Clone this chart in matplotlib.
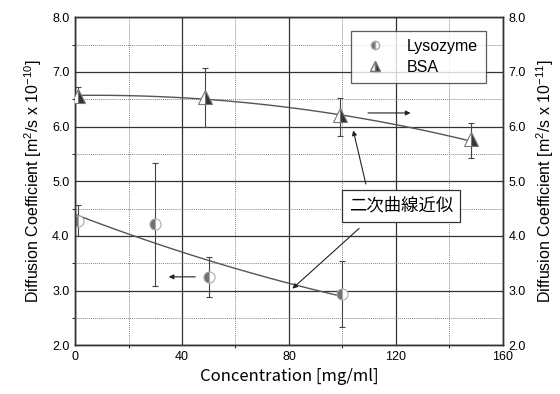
import numpy as np
import matplotlib
matplotlib.use('AGG')
import matplotlib.pyplot as plt
from matplotlib.ticker import MultipleLocator

plt.rcParams['font.family'] = ['Liberation Sans', 'DejaVu Sans']
plt.rcParams['mathtext.fontset'] = 'custom'
plt.rcParams['mathtext.rm'] = 'Liberation Sans'
plt.rcParams['mathtext.it'] = 'Liberation Sans'

# Lysozyme (left axis, x 10^-10)
lyso_x = [1, 30, 50, 100]
lyso_y = [4.28, 4.22, 3.25, 2.93]
lyso_lo = [3.99, 3.09, 2.89, 2.33]
lyso_hi = [4.57, 5.33, 3.62, 3.54]
lyso_fit_x = [0, 20, 50, 80, 100]
lyso_fit_y = [4.40, 4.02, 3.56, 3.13, 2.89]

# BSA (right axis, x 10^-11)
bsa_x = [1, 48.5, 99, 148]
bsa_y = [6.56, 6.55, 6.21, 5.77]
bsa_lo = [6.47, 6.00, 5.83, 5.42]
bsa_hi = [6.72, 7.07, 6.53, 6.06]
bsa_fit_x = [0, 50, 80, 121, 146]
bsa_fit_y = [6.57, 6.49, 6.37, 6.00, 5.77]

xticks = [0, 40, 80, 120, 160]
yticks = [2.0, 3.0, 4.0, 5.0, 6.0, 7.0, 8.0]

fig = plt.figure(figsize=(5.6, 3.94), dpi=100)
ax = fig.add_axes([0.134, 0.124, 0.764, 0.832])
ax2 = ax.twinx()

for a in (ax, ax2):
    a.set_xlim(0, 160)
    a.set_ylim(2, 8)
    a.set_yticks(yticks)
    a.set_yticklabels(['%.1f' % v for v in yticks])
    a.tick_params(length=0, labelsize=9, pad=4)
    for s in a.spines.values():
        s.set_color('#333333')
        s.set_linewidth(1.0)

ax.set_xticks(xticks)
ax.xaxis.set_minor_locator(MultipleLocator(20))
ax.yaxis.set_minor_locator(MultipleLocator(0.5))
ax.grid(which='major', color='#333333', linewidth=0.9)
ax.grid(which='minor', color='#888888', linewidth=0.7, linestyle=(0, (1, 1)))
ax.set_axisbelow(True)

# quadratic fits
lx = np.linspace(0, 100, 100)
lc = np.polyfit(lyso_fit_x, lyso_fit_y, 2)
ax.plot(lx, np.polyval(lc, lx), color='#555555', linewidth=1.0, zorder=3)
bx = np.linspace(0, 148, 100)
bc = np.polyfit(bsa_fit_x, bsa_fit_y, 2)
ax2.plot(bx, np.polyval(bc, bx), color='#555555', linewidth=1.0, zorder=3)

ly = np.array(lyso_y)
ax.errorbar(lyso_x, lyso_y,
            yerr=[ly - np.array(lyso_lo), np.array(lyso_hi) - ly],
            fmt='none', ecolor='#444444', elinewidth=0.8, capsize=2.5, capthick=0.8, zorder=4)
ax.plot(lyso_x, lyso_y, 'o', markersize=8, fillstyle='left',
        markerfacecolor='#707070', markerfacecoloralt='white',
        markeredgecolor='#aaaaaa', markeredgewidth=0.8, zorder=5)

by = np.array(bsa_y)
ax2.errorbar(bsa_x, bsa_y,
             yerr=[by - np.array(bsa_lo), np.array(bsa_hi) - by],
             fmt='none', ecolor='#444444', elinewidth=0.8, capsize=2.5, capthick=0.8, zorder=4)
ax2.plot(bsa_x, bsa_y, '^', markersize=10, fillstyle='right',
         markerfacecolor='#333333', markerfacecoloralt='white',
         markeredgecolor='#777777', markeredgewidth=0.8, zorder=5)

# legend
h1 = ax.plot([], [], 'o', markersize=6, fillstyle='left', markerfacecolor='#707070',
             markerfacecoloralt='white', markeredgecolor='#aaaaaa')[0]
h2 = ax.plot([], [], '^', markersize=7, fillstyle='right', markerfacecolor='#333333',
             markerfacecoloralt='white', markeredgecolor='#777777')[0]
leg = ax2.legend([h1, h2], ['Lysozyme', 'BSA'], loc='upper right',
                 bbox_to_anchor=(0.961, 0.958), fontsize=11.5, frameon=True,
                 fancybox=False, edgecolor='#333333', borderpad=0.5,
                 handletextpad=1.0, labelspacing=0.35, borderaxespad=0)
leg.get_frame().set_linewidth(0.9)
leg.set_zorder(10)

# axis direction arrows
arr = dict(arrowstyle='-|>', color='#222222', lw=0.8, mutation_scale=7)
ax.annotate('', xy=(34, 3.25), xytext=(46, 3.25), arrowprops=arr, zorder=6)
ax2.annotate('', xy=(126.5, 6.25), xytext=(108.5, 6.25), arrowprops=arr, zorder=6)

# fit label
ax.text(122, 4.55, '二次曲線近似', fontsize=12.5, ha='center', va='center',
        family=['Noto Sans CJK JP', 'DejaVu Sans'], zorder=8,
        bbox=dict(boxstyle='square,pad=0.4', facecolor='white', edgecolor='#333333', linewidth=0.9))
ax.annotate('', xy=(103.8, 5.98), xytext=(109, 4.9), arrowprops=arr, zorder=6)
ax.annotate('', xy=(80.5, 3.0), xytext=(107, 4.17), arrowprops=arr, zorder=6)

ax.set_xlabel('Concentration [mg/ml]', fontsize=12, family=['Noto Sans CJK JP', 'DejaVu Sans'],
              labelpad=4)
ax.set_ylabel('Diffusion Coefficient [m$^2$/s x 10$^{-10}$]', fontsize=11.5, labelpad=6)
ax2.set_ylabel('Diffusion Coefficient [m$^2$/s x 10$^{-11}$]', fontsize=11.5, labelpad=6)

fig.savefig('out.png', dpi=100)
